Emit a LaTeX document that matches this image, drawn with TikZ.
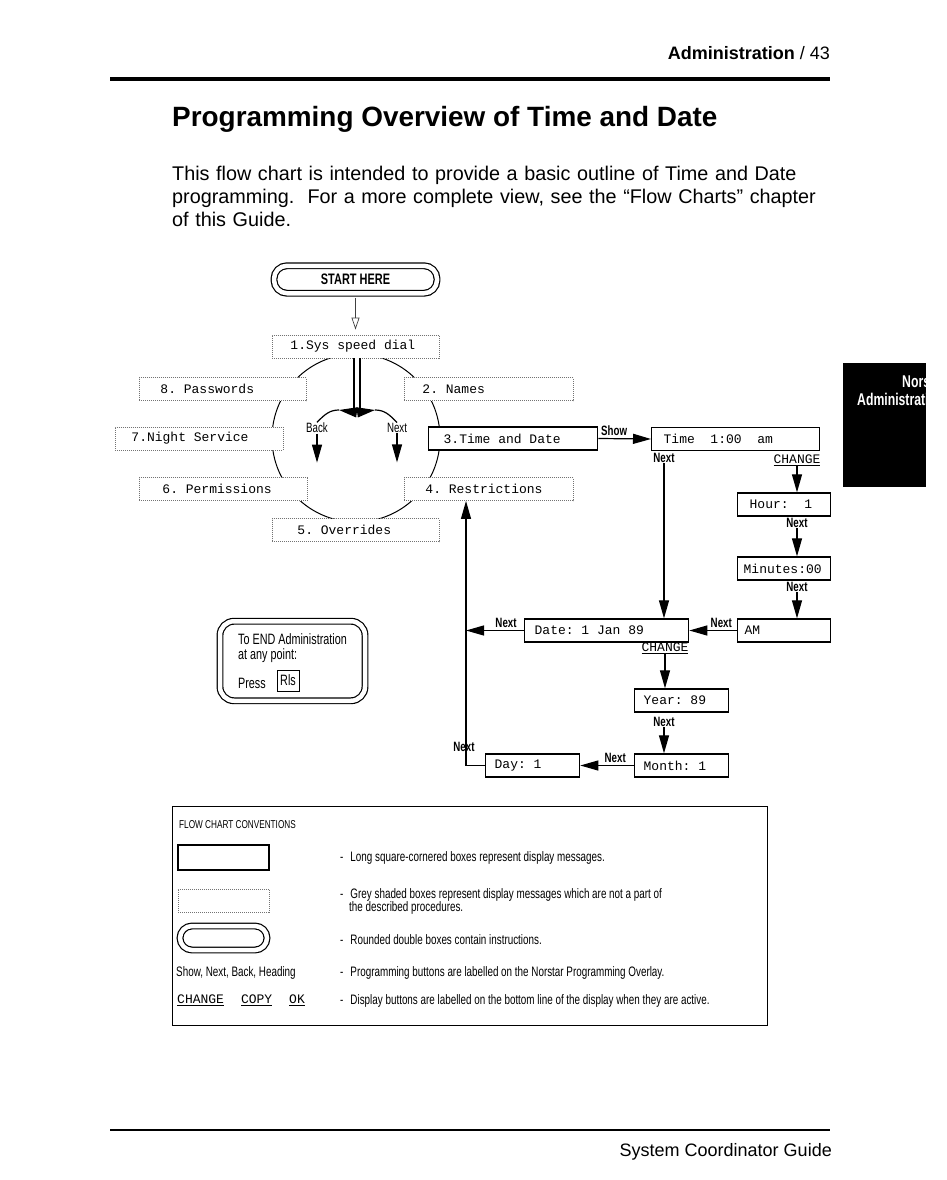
\documentclass[tikz,border=0pt]{standalone}
\usepackage{fontspec}
\setmainfont{Liberation Sans}
\newfontfamily\narrowfont[FakeStretch=0.72]{Liberation Sans}
\newfontfamily\lcdfont{Liberation Mono}
\usetikzlibrary{arrows.meta,calc}
\newcommand\fsz[1]{\fontsize{#1}{#1}\selectfont}
\newcommand\lcd{\lcdfont\fsz{13}}
\newcommand\gap{\hspace*{7.8pt}}
\tikzset{
  lcdbox/.style 2 args={draw, line width=1.3pt, fill=white, font=\lcd,
    minimum height=23pt, inner xsep=#2, inner ysep=0pt, text width={#1-2*#2},
    anchor=west},
  greybox/.style 2 args={lcdbox={#1}{#2}, draw=black!55, dash pattern=on 1pt off 1pt, line width=0.9pt},
  dround/.style={draw, double, double distance=4.5pt, line width=1.2pt, rounded corners=13pt},
  lbl/.style={font=\narrowfont\bfseries\fsz{13.5}, inner sep=0.5pt},
  chg/.style={font=\lcd, inner sep=0.5pt},
  arr/.style={-{Triangle[length=18pt, width=10pt]}, line width=1.2pt},
  convtext/.style={anchor=west, inner sep=0pt, font=\narrowfont\fontsize{13.7}{13}\selectfont},
  tabtext/.style={text=white, inner sep=0pt, font=\narrowfont\bfseries\fsz{17}},
}
\begin{document}
\begin{tikzpicture}[x=1pt, y=-1pt]
  \useasboundingbox (0,0) rectangle (946,1180);
  % page head
  \node[anchor=base east, inner sep=0pt, font=\fsz{18}] (head) at (830,60) {\textbf{Administration} / 43};
  \draw[line width=4pt] (110,79) -- (830,79);
  \node[anchor=base west, inner sep=0pt, font=\bfseries\fsz{27.9}] (title) at (172,127) {Programming Overview of Time and Date};
  \node[anchor=base west, inner sep=0pt, font=\fontsize{19.8}{23.3}\selectfont, text width=700pt] (intro) at (172,180)
    {This flow chart is intended to provide a basic outline of Time and Date\\programming.\ \ For a more complete view, see the “Flow Charts” chapter\\of this Guide.};
  % side tab
  \fill (843,363) rectangle (926,487);
  \begin{scope}
    \clip (843,363) rectangle (926,487);
    \node[tabtext, anchor=base west] (tab1) at (902,387) {Norstar};
    \node[tabtext, anchor=base west] (tab2) at (857,405) {Administration};
  \end{scope}
  % menu ring
  \draw[line width=1pt] (356,438) circle[radius=84];
  \node[dround, minimum width=163pt, minimum height=27.5pt, font=\narrowfont\bfseries\fsz{15.2}] (start) at (355.5,279.5) {START HERE};
  \node[greybox={167pt}{18pt}] (sys) at (272,346.5) {1.Sys\gap speed\gap dial};
  \node[greybox={167pt}{21pt}] (pass) at (139,389) {8.\gap Passwords};
  \node[greybox={169pt}{18pt}] (names) at (404,389) {2.\gap Names};
  \node[greybox={168pt}{16pt}] (night) at (115,438.5) {7.Night\gap Service};
  \node[lcdbox={169pt}{15pt}] (tad) at (428,438.5) {3.Time\gap and\gap Date};
  \node[greybox={168pt}{23pt}] (perm) at (139,489) {6.\gap Permissions};
  \node[greybox={169pt}{21pt}] (restr) at (404,489) {4.\gap Restrictions};
  \node[greybox={167pt}{25pt}] (over) at (272,530) {5.\gap Overrides};
  \draw[-{Triangle[open, length=12pt, width=8pt]}, draw=black!75, line width=0.7pt, shorten <=4pt, shorten >=5pt] (start.south) -- (sys.north -| start.south);
  % back / next
  \coordinate (stem) at (357,412);
  \coordinate (bk) at (339,410);
  \coordinate (nx) at (375,410);
  \draw[double, double distance=4pt, line width=1.8pt] (sys.south -| stem) -- (stem);
  \node[lbl, font=\narrowfont\fsz{13.5}] (back) at (317,428) {Back};
  \node[lbl, font=\narrowfont\fsz{13.5}] (next) at (397,428) {Next};
  \draw[arr] ([xshift=-3pt]stem) -- (bk);
  \draw[arr] ([xshift=3pt]stem) -- (nx);
  \draw[line width=1.2pt] (bk) .. controls (330,410) and (325,414) .. (back.north);
  \draw[line width=1.2pt] (nx) .. controls (384,410) and (389,414) .. (next.north);
  \draw[arr] (back.south) -- ++(0,29);
  \draw[arr] (next.south) -- ++(0,29);
  % time and date branch
  \node[lcdbox={168pt}{12pt}] (time) at (651,439) {Time\gap\gap 1:00\gap\gap am};
  \node[lcdbox={93pt}{12pt}] (hour) at (737,504.5) {Hour:\gap\gap 1};
  \node[lcdbox={93pt}{6pt}] (mins) at (737,568.5) {Minutes:00};
  \node[lcdbox={93pt}{7pt}] (am) at (737,630.5) {AM};
  \node[lcdbox={164pt}{10pt}] (date) at (524,630.5) {Date:\gap 1\gap Jan\gap 89};
  \node[lcdbox={94pt}{9pt}] (year) at (634,700.5) {Year:\gap 89};
  \node[lcdbox={94pt}{9pt}] (month) at (634,765.5) {Month:\gap 1};
  \node[lcdbox={94pt}{9pt}] (day) at (485,765.5) {Day:\gap 1};
  \node[lbl] (timenext) at (664,458) {Next};
  \node[chg] (timechg) at (797,460) {\underline{CHANGE}};
  \node[lbl] (hournext) at (797,523) {Next};
  \node[lbl] (minsnext) at (797,587) {Next};
  \node[chg] (datechg) at (665,648) {\underline{CHANGE}};
  \node[lbl] (yearnext) at (664,722) {Next};
  \node[lbl] (daynext) at (464,747) {Next};
  \coordinate (loop) at (466,765.5);
  \draw[arr] (tad.east) -- node[lbl, above=2pt, pos=0.3] {Show} (time.west);
  \draw[arr] (timechg.south) -- (timechg.south |- hour.north);
  \draw[arr] (hournext.south) -- (hournext.south |- mins.north);
  \draw[arr] (minsnext.south) -- (minsnext.south |- am.north);
  \draw[arr] (am.west) -- node[lbl, above=2pt, pos=0.33] {Next} (date.east);
  \draw[arr] (timenext.south) -- (timenext.south |- date.north);
  \draw[arr] (datechg.south) -- (datechg.south |- year.north);
  \draw[arr] (yearnext.south) -- (yearnext.south |- month.north);
  \draw[arr] (month.west) -- node[lbl, above=2pt, pos=0.35] {Next} (day.east);
  \draw[arr] (date.west) -- node[lbl, above=2pt, pos=0.31] {Next} (date.west -| loop);
  \draw[arr] (day.west) -- (loop) -- (loop |- restr.south);
  % end note
  \node[dround, rounded corners=14pt, minimum width=145pt, minimum height=79.5pt, align=left, font=\narrowfont\fsz{15}] (endbox) at (292.5,661)
    {To END Administration\\at any point:\\[14pt]Press};
  \node[draw, line width=1pt, inner sep=1pt, minimum width=22pt, minimum height=21pt, font=\narrowfont\fsz{15}] (rls) at (288,680.5) {Rls};
  % conventions
  \draw[line width=1pt] (172,806) rectangle (767,1025);
  \node[anchor=west, inner sep=0pt, font=\narrowfont\fsz{11.4}] (convhead) at (179,825) {FLOW CHART CONVENTIONS};
  \node[draw, line width=1.3pt, minimum width=91pt, minimum height=25pt] (ksolid) at (223.5,857.5) {};
  \node[draw=black!55, dash pattern=on 1pt off 1pt, line width=0.9pt, minimum width=91pt, minimum height=23pt] (kgrey) at (223.5,900.5) {};
  \node[dround, rounded corners=12pt, minimum width=87pt, minimum height=24pt] (kround) at (223.5,938) {};
  \node[convtext] (tsolid) at (340,857.5) {-\hspace{7pt}Long square-cornered boxes represent display messages.};
  \node[convtext, align=left] (tgrey) at (340,901.5) {-\hspace{7pt}Grey shaded boxes represent display messages which are not a part of\\\hspace{9pt}the described procedures.};
  \node[convtext] (tround) at (340,940) {-\hspace{7pt}Rounded double boxes contain instructions.};
  \node[convtext] (kbtn) at (176,973) {Show, Next, Back, Heading};
  \node[convtext] (tbtn) at (340,973) {-\hspace{7pt}Programming buttons are labelled on the Norstar Programming Overlay.};
  \node[anchor=west, inner sep=0pt, font=\lcd] (kdisp) at (177,1000) {\underline{CHANGE}\hspace{17pt}\underline{COPY}\hspace{17pt}\underline{OK}};
  \node[convtext] (tdisp) at (340,1001) {-\hspace{7pt}Display buttons are labelled on the bottom line of the display when they are active.};
  % page foot
  \draw[line width=2pt] (110,1130) -- (830,1130);
  \node[anchor=base east, inner sep=0pt, font=\fsz{18}] (foot) at (832,1156) {System Coordinator Guide};
\end{tikzpicture}
\end{document}
